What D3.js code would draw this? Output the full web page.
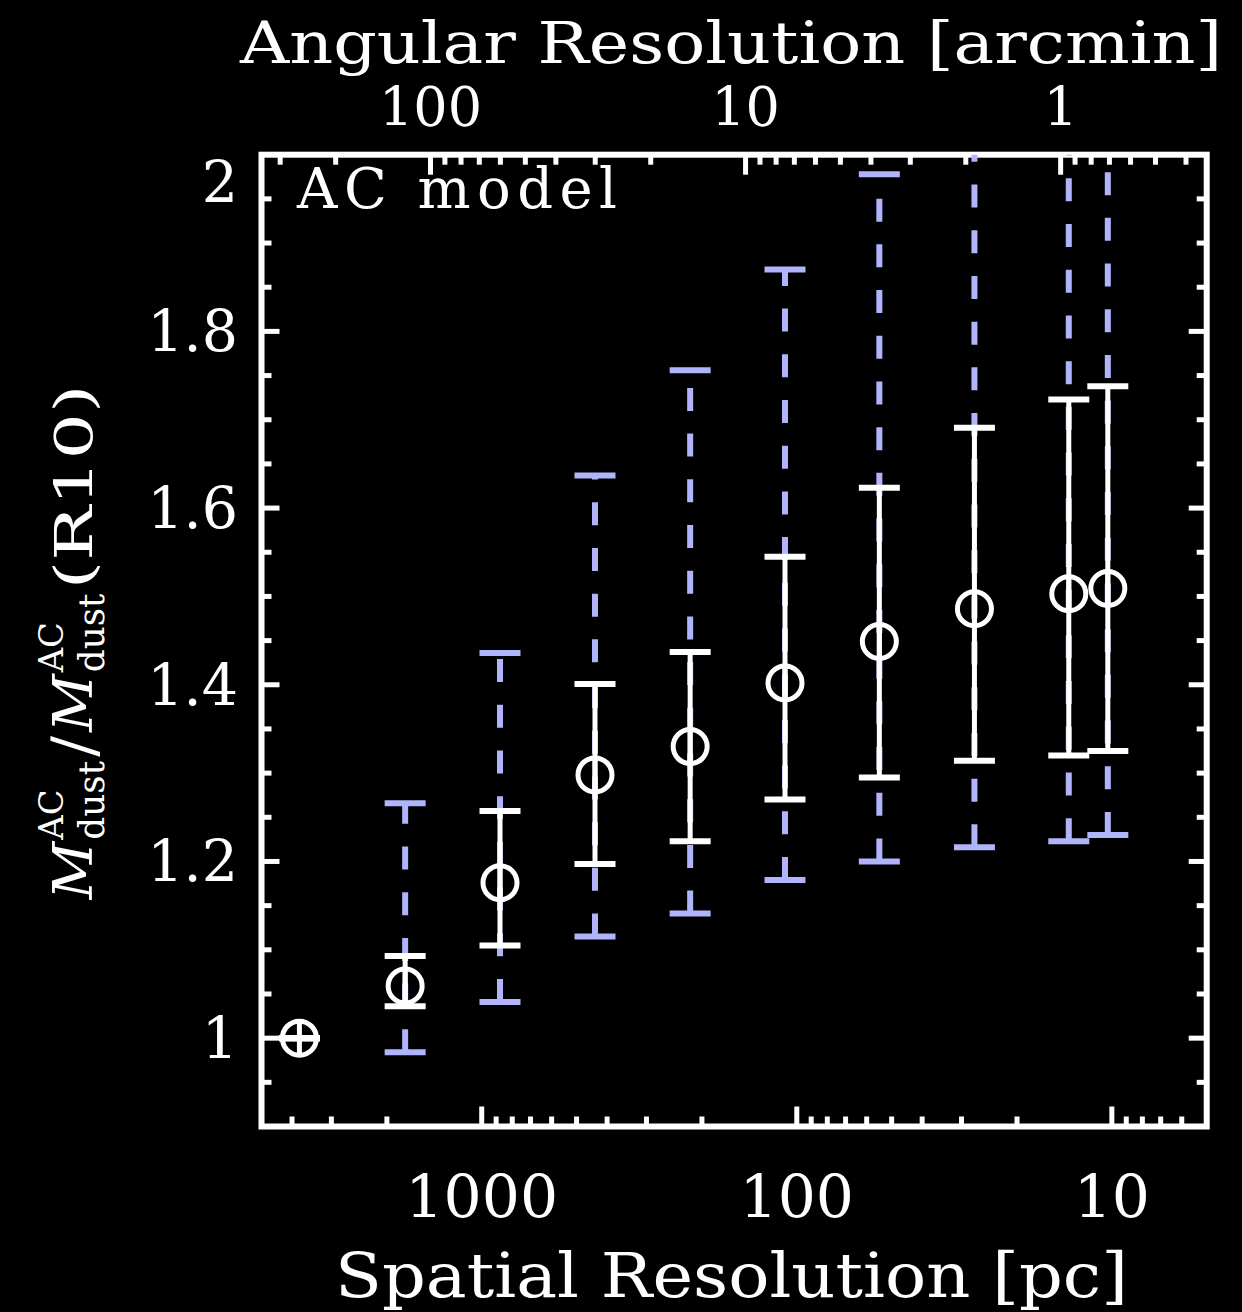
<!DOCTYPE html>
<html>
<head>
<meta charset="utf-8">
<script src="https://cdn.jsdelivr.net/npm/d3@7"></script>
<style>
  html, body { margin: 0; padding: 0; background: #000; }
  svg { display: block; }
</style>
</head>
<body>
<svg id="chart" width="1242" height="1312"></svg>
<script>
// Spatial resolution of each map [pc]
const spatialPc = [3790, 1750, 875, 437, 218, 109, 54.7, 27.3, 13.7, 10.3];
// Median dust-mass ratio relative to the R10 map
const massRatio = [1.000, 1.059, 1.176, 1.298, 1.330, 1.402, 1.449, 1.486, 1.503, 1.509];
// Inner (solid white) range
const innerLo = [1.000, 1.036, 1.105, 1.197, 1.223, 1.270, 1.295, 1.314, 1.320, 1.325];
const innerHi = [1.000, 1.093, 1.257, 1.401, 1.437, 1.545, 1.623, 1.691, 1.723, 1.738];
// Outer (dashed blue) range
const outerLo = [1.000, 0.984, 1.041, 1.115, 1.141, 1.179, 1.200, 1.216, 1.223, 1.230];
const outerHi = [1.000, 1.266, 1.436, 1.637, 1.756, 1.870, 1.978, 2.080, 2.150, 2.200];

// Axis labels
const bottomTickValues = [1000, 100, 10];
const bottomTickLabels = ["1000", "100", "10"];
const topTickValues = [100, 10, 1];
const topTickLabels = ["100", "10", "1"];
const leftTickValues = [1.0, 1.2, 1.4, 1.6, 1.8, 2.0];
const leftTickLabels = ["1", "1.2", "1.4", "1.6", "1.8", "2"];

const PC_PER_ARCMIN = 14.54; // LMC distance, 50 kpc

const FONT = "'DejaVu Serif', serif";
const WHITE = "#ffffff";
const BLUE = "#b0b4fa";

const svg = d3.select("#chart");
svg.append("rect").attr("width", 1242).attr("height", 1312).attr("fill", "#000");

const frame = { left: 261.5, right: 1206.7, top: 154.7, bottom: 1126.5 };

const x = d3.scaleLog().domain([5000, 5]).range([frame.left, frame.right]);
const xTop = d3.scaleLog()
  .domain([5000 / PC_PER_ARCMIN, 5 / PC_PER_ARCMIN])
  .range([frame.left, frame.right]);
const y = d3.scaleLinear().domain([0.9, 2.0]).range([frame.bottom, frame.top]);

// ---- ticks (inward, on all four sides) ----
const tickG = svg.append("g").attr("stroke", WHITE).attr("stroke-width", 5);
const MAJOR = 20, MINOR = 10;
const isPow10 = v => Math.abs(Math.log10(v) - Math.round(Math.log10(v))) < 1e-6;

function inside(px, lo, hi) { return px > lo + 3 && px < hi - 3; }

x.ticks().forEach(v => {
  const px = x(v);
  if (!inside(px, frame.left, frame.right)) return;
  const len = isPow10(v) ? MAJOR : MINOR;
  tickG.append("line").attr("x1", px).attr("x2", px)
    .attr("y1", frame.bottom).attr("y2", frame.bottom - len);
});
xTop.ticks().forEach(v => {
  const px = xTop(v);
  if (!inside(px, frame.left, frame.right)) return;
  const len = isPow10(v) ? MAJOR : MINOR;
  tickG.append("line").attr("x1", px).attr("x2", px)
    .attr("y1", frame.top).attr("y2", frame.top + len);
});
d3.range(0, 23).map(i => +(0.9 + i * 0.05).toFixed(2)).forEach(v => {
  const py = y(v);
  if (!inside(py, frame.top, frame.bottom)) return;
  const major = Math.abs(v * 5 - Math.round(v * 5)) < 1e-6;
  const len = major ? MAJOR - 2 : MINOR;
  tickG.append("line").attr("x1", frame.left).attr("x2", frame.left + len)
    .attr("y1", py).attr("y2", py);
  tickG.append("line").attr("x1", frame.right).attr("x2", frame.right - len)
    .attr("y1", py).attr("y2", py);
});

// ---- frame ----
svg.append("rect")
  .attr("x", frame.left).attr("y", frame.top)
  .attr("width", frame.right - frame.left).attr("height", frame.bottom - frame.top)
  .attr("fill", "none").attr("stroke", WHITE).attr("stroke-width", 6);

// ---- tick labels ----
const labG = svg.append("g").attr("fill", WHITE).attr("font-family", FONT);
bottomTickValues.forEach((v, i) => {
  labG.append("text").attr("x", x(v)).attr("y", 1218)
    .attr("text-anchor", "middle").attr("font-size", 60).text(bottomTickLabels[i]);
});
topTickValues.forEach((v, i) => {
  labG.append("text").attr("x", xTop(v)).attr("y", 126)
    .attr("text-anchor", "middle").attr("font-size", 54).text(topTickLabels[i]);
});
leftTickValues.forEach((v, i) => {
  // the top label is nudged down so it stays beside the frame corner
  const shift = (v >= 2.0) ? 27 : 0;
  labG.append("text").attr("x", 238).attr("y", y(v) + 20 + shift)
    .attr("text-anchor", "end").attr("font-size", 57).text(leftTickLabels[i]);
});

// ---- axis titles ----
labG.append("text").attr("x", 240).attr("y", 63)
  .attr("font-size", 57).attr("textLength", 982).attr("lengthAdjust", "spacingAndGlyphs")
  .text("Angular Resolution [arcmin]");
labG.append("text").attr("x", 335).attr("y", 1297)
  .attr("font-size", 62).attr("textLength", 793).attr("lengthAdjust", "spacingAndGlyphs")
  .text("Spatial Resolution [pc]");
labG.append("text").attr("x", 297).attr("y", 208)
  .attr("font-size", 56).attr("textLength", 320).attr("lengthAdjust", "spacing")
  .text("AC model");

// ---- rotated y-axis title: M^AC_dust / M^AC_dust (R10) ----
const yl = svg.append("g").attr("transform", "translate(92,642) rotate(-90)");
const yin = yl.append("g").attr("fill", WHITE).attr("font-family", FONT);
let cursor = 0;
function put(str, size, dy, opts = {}) {
  const t = yin.append("text").attr("x", cursor).attr("y", dy)
    .attr("font-size", size).text(str);
  if (opts.italic) t.attr("font-style", "italic");
  if (opts.len) t.attr("textLength", opts.len).attr("lengthAdjust", opts.adjust || "spacing");
  return opts.len || t.node().getComputedTextLength();
}
function massSymbol() {
  cursor += put("M", 55, 0, { italic: true }) + 2;
  const wa = put("AC", 33, -29);
  const wd = put("dust", 35, 12);
  cursor += Math.max(wa, wd);
}
massSymbol();
cursor += 4;
cursor += put("/", 60, 2);
cursor += 4;
massSymbol();
cursor += 4;
cursor += put("(R10)", 52, 0, { len: 200, adjust: "spacingAndGlyphs" });
const targetLen = 515;
yin.attr("transform", `scale(${targetLen / cursor},1) translate(${-cursor / 2},0)`);

// ---- data ----
const clipId = "plotClip";
svg.append("clipPath").attr("id", clipId).append("rect")
  .attr("x", frame.left).attr("y", frame.top)
  .attr("width", frame.right - frame.left).attr("height", frame.bottom - frame.top);
const dataG = svg.append("g").attr("clip-path", `url(#${clipId})`);

const pts = spatialPc.map((pc, i) => ({
  pc, v: massRatio[i],
  ilo: innerLo[i], ihi: innerHi[i],
  olo: outerLo[i], ohi: outerHi[i]
}));
const CAP = 20.5, R = 17;

// outer range: dashed light-blue bars with caps
const outer = dataG.append("g").attr("stroke", BLUE).attr("fill", "none");
pts.forEach(d => {
  const px = x(d.pc);
  if (d.ohi > d.olo) {
    outer.append("line").attr("x1", px).attr("x2", px)
      .attr("y1", y(d.olo)).attr("y2", y(d.ohi))
      .attr("stroke-width", 6).attr("stroke-dasharray", "23,22.7");
  }
  [d.olo, d.ohi].forEach(v => {
    outer.append("line").attr("x1", px - CAP).attr("x2", px + CAP)
      .attr("y1", y(v)).attr("y2", y(v)).attr("stroke-width", 6);
  });
});

// inner range: solid white bars with caps
const inner = dataG.append("g").attr("stroke", WHITE).attr("fill", "none");
pts.forEach(d => {
  const px = x(d.pc);
  inner.append("line").attr("x1", px).attr("x2", px)
    .attr("y1", y(d.ilo)).attr("y2", y(d.ihi)).attr("stroke-width", 5);
  [d.ilo, d.ihi].forEach(v => {
    inner.append("line").attr("x1", px - CAP).attr("x2", px + CAP)
      .attr("y1", y(v)).attr("y2", y(v)).attr("stroke-width", 6);
  });
});

// open-circle markers with a vertical bar
const marks = dataG.append("g").attr("stroke", WHITE).attr("fill", "none").attr("stroke-width", 5);
pts.forEach(d => {
  const px = x(d.pc), py = y(d.v);
  marks.append("circle").attr("cx", px).attr("cy", py).attr("r", R);
  marks.append("line").attr("x1", px).attr("x2", px).attr("y1", py - R).attr("y2", py + R);
});
</script>
</body>
</html>
